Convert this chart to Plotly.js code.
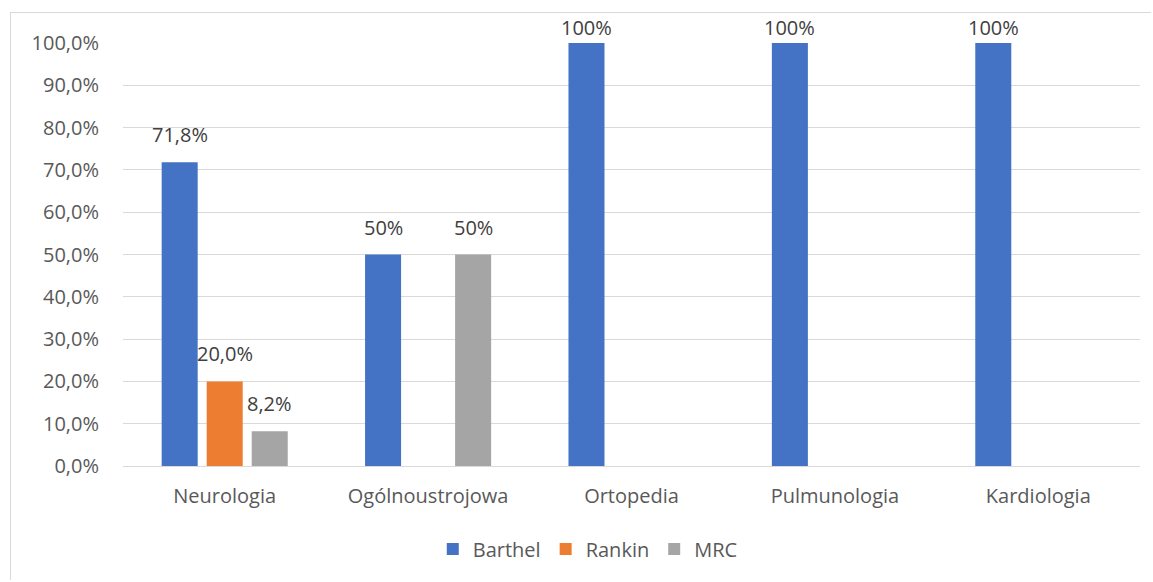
<!DOCTYPE html>
<html>
<head>
<meta charset="utf-8">
<script src="https://cdn.plot.ly/plotly-3.0.1.min.js"></script>
<style>
  html, body { margin: 0; padding: 0; background: #ffffff; }
  #frame { position: absolute; left: 10px; top: 12px; width: 1141px; height: 568px; border: 1px solid #d9d9d9; box-sizing: border-box; }
  #chart { width: 100%; height: 100%; }
</style>
</head>
<body>
<div id="frame"><div id="chart"></div></div>
<script>
const categories = ["Neurologia", "Ogólnoustrojowa", "Ortopedia", "Pulmunologia", "Kardiologia"];
const barthelValues = [0.718, 0.5, 1.0, 1.0, 1.0];
const barthelLabels = ["71,8%", "50%", "100%", "100%", "100%"];
const rankinValues = [0.2, null, null, null, null];
const rankinLabels = ["20,0%", "", "", "", ""];
const mrcValues = [0.082, 0.5, null, null, null];
const mrcLabels = ["8,2%", "50%", "", "", ""];
const seriesNames = ["Barthel", "Rankin", "MRC"];
const seriesColors = ["#4472C4", "#ED7D31", "#A5A5A5"];

const FONT = "Open Sans, Liberation Sans, sans-serif";
const TXT = "#595959";

const seriesValues = [barthelValues, rankinValues, mrcValues];
const seriesLabels = [barthelLabels, rankinLabels, mrcLabels];

const data = seriesNames.map((name, i) => ({
  type: "bar", name: name, x: categories, y: seriesValues[i],
  marker: {color: seriesColors[i]}, hoverinfo: "skip"
}));

// data labels above bars, placed through the axes (category + value)
const SLOT = 45; // pixel spacing between grouped bars
const annotations = [];
seriesNames.forEach((name, i) => {
  categories.forEach((c, j) => {
    const v = seriesValues[i][j];
    const t = seriesLabels[i][j];
    if (v === null || !t) return;
    annotations.push({
      x: c, y: v, xref: "x", yref: "y", text: t, showarrow: false,
      xanchor: "center", yanchor: "bottom",
      xshift: (i - 1) * SLOT, yshift: v >= 1 ? 0 : 12,
      font: {family: FONT, size: 20, color: "#404040"}
    });
  });
});

const layout = {
  width: 1141, height: 568,
  margin: {l: 112, r: 12, t: 30, b: 115},
  paper_bgcolor: "#ffffff", plot_bgcolor: "#ffffff",
  separators: ", ",
  barmode: "group", bargap: 0.336, bargroupgap: 0.2,
  font: {family: FONT, size: 20, color: TXT},
  showlegend: true,
  legend: {orientation: "h", x: 0.457, xanchor: "center", y: -0.196, yanchor: "middle",
           font: {family: FONT, size: 20, color: TXT}, traceorder: "normal", itemwidth: 30},
  annotations: annotations,
  xaxis: {type: "category", showgrid: false, zeroline: false, showline: false,
          ticks: "outside", ticklen: 12, tickcolor: "rgba(0,0,0,0)",
          tickfont: {family: FONT, size: 20, color: TXT}},
  yaxis: {range: [0, 1], dtick: 0.1, tickformat: ".1%", showgrid: true, gridcolor: "#d9d9d9", gridwidth: 1,
          zeroline: true, zerolinecolor: "#d9d9d9", zerolinewidth: 1, showline: false,
          ticks: "outside", ticklen: 19, tickcolor: "rgba(0,0,0,0)",
          tickfont: {family: FONT, size: 20, color: TXT}}
};

Plotly.newPlot("chart", data, layout, {displayModeBar: false, staticPlot: true});
</script>
</body>
</html>
